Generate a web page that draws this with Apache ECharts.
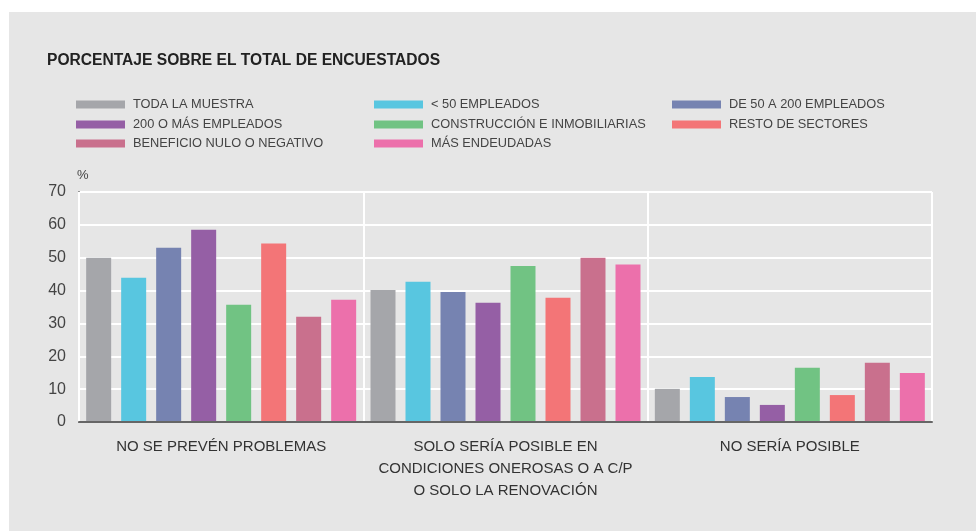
<!DOCTYPE html>
<html>
<head>
<meta charset="utf-8">
<script src="https://cdn.jsdelivr.net/npm/echarts@6/dist/echarts.min.js"></script>
<style>
html,body{margin:0;padding:0;background:#ffffff;}
#main{width:976px;height:531px;}
</style>
</head>
<body>
<div id="main"></div>
<script>
var categories = ['NO SE PREVÉN PROBLEMAS', 'SOLO SERÍA POSIBLE EN\nCONDICIONES ONEROSAS O A C/P\nO SOLO LA RENOVACIÓN', 'NO SERÍA POSIBLE'];
var seriesNames = ['TODA LA MUESTRA', '< 50 EMPLEADOS', 'DE 50 A 200 EMPLEADOS', '200 O MÁS EMPLEADOS', 'CONSTRUCCIÓN E INMOBILIARIAS', 'RESTO DE SECTORES', 'BENEFICIO NULO O NEGATIVO', 'MÁS ENDEUDADAS'];
var todaLaMuestra = [50.0, 40.2, 10.1];
var menos50 = [43.9, 42.7, 13.7];
var de50a200 = [53.0, 39.6, 7.6];
var mas200 = [58.5, 36.3, 5.2];
var construccion = [35.7, 47.5, 16.5];
var restoSectores = [54.3, 37.8, 8.2];
var beneficioNulo = [32.0, 50.0, 18.0];
var masEndeudadas = [37.2, 47.9, 14.9];
var yTicks = [0, 10, 20, 30, 40, 50, 60, 70];

var seriesData = [todaLaMuestra, menos50, de50a200, mas200, construccion, restoSectores, beneficioNulo, masEndeudadas];
var colors = ['#a5a6aa', '#58c6e0', '#7683b1', '#955fa5', '#71c383', '#f37577', '#c9708d', '#ec70ab'];
var FONT = '"Liberation Sans", Arial, sans-serif';

var legendCols = [76, 374, 672];
var legendRows = [98, 118, 137];
var legends = seriesNames.map(function (n, i) {
  return {
    data: [n],
    left: legendCols[i % 3],
    top: legendRows[Math.floor(i / 3)],
    orient: 'horizontal',
    icon: 'rect',
    itemWidth: 49,
    itemHeight: 8,
    itemGap: 0,
    padding: 0,
    selectedMode: false,
    textStyle: { fontFamily: FONT, fontSize: 12.8, color: '#444444', padding: [0, 0, 0, 3] }
  };
});

var chart = echarts.init(document.getElementById('main'), null, { renderer: 'canvas' });
chart.setOption({
  backgroundColor: '#ffffff',
  animation: false,
  color: colors,
  graphic: [{
    type: 'rect', left: 9, top: 12, z: -10,
    shape: { width: 967, height: 519 },
    style: { fill: '#e6e6e6' }
  }],
  title: {
    text: 'PORCENTAJE SOBRE EL TOTAL DE ENCUESTADOS',
    left: 47, top: 53, padding: 0,
    textStyle: { fontFamily: FONT, fontSize: 15.6, fontWeight: 'bold', color: '#222222' }
  },
  legend: legends,
  grid: { left: 79, right: 44, top: 192, bottom: 109, containLabel: false },
  xAxis: {
    type: 'category',
    data: categories,
    boundaryGap: true,
    axisLine: { show: true, lineStyle: { color: '#666666', width: 2 } },
    axisTick: { show: false },
    splitLine: { show: true, lineStyle: { color: '#ffffff', width: 2 } },
    axisLabel: { fontFamily: FONT, fontSize: 15, lineHeight: 22, color: '#333333', margin: 14, interval: 0 },
    z: 5
  },
  yAxis: {
    type: 'value',
    min: 0, max: 70, interval: 10,
    name: '%',
    nameLocation: 'end',
    nameGap: 10,
    nameTextStyle: { fontFamily: FONT, fontSize: 13, color: '#444444', align: 'left', padding: [0, 0, 0, -2] },
    axisLine: { show: true, lineStyle: { color: '#777777', width: 2 } },
    axisTick: { show: false },
    splitLine: { show: true, lineStyle: { color: '#ffffff', width: 2 } },
    axisLabel: {
      fontFamily: FONT, fontSize: 16, color: '#444444', margin: 13,
      formatter: function (v) { return yTicks.indexOf(v) >= 0 ? String(v) : ''; }
    }
  },
  series: seriesNames.map(function (n, i) {
    return {
      name: n,
      type: 'bar',
      data: seriesData[i],
      barWidth: 25,
      barGap: '40%',
      barCategoryGap: '5%',
      itemStyle: { color: colors[i] }
    };
  })
});
</script>
</body>
</html>
